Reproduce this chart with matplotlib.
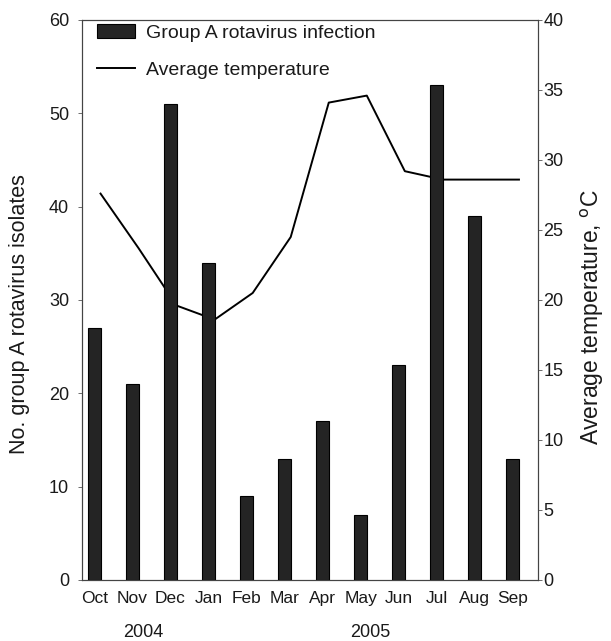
import matplotlib
matplotlib.use("Agg")
import matplotlib.pyplot as plt
import numpy as np

plt.rcParams['font.family'] = ['Liberation Sans', 'DejaVu Sans']

# monthly data, Oct 2004 - Sep 2005
months = ['Oct', 'Nov', 'Dec', 'Jan', 'Feb', 'Mar',
          'Apr', 'May', 'Jun', 'Jul', 'Aug', 'Sep']
isolates = [27, 21, 51, 34, 9, 13, 17, 7, 23, 53, 39, 13]
temperature = [27.6, 23.7, 19.6, 18.6, 20.5, 24.5,
               34.1, 34.6, 29.2, 28.6, 28.6, 28.6]
years = ['2004', '2005']
year_pos = [1.12, 7.09]

txt = '#1a1a1a'
x = np.arange(len(months))

fig = plt.figure(figsize=(6.11, 6.41), dpi=100)
ax = fig.add_axes([0.1334, 0.0952, 0.7471, 0.8736])
ax2 = ax.twinx()

# bars sit a bit left of the category centre, like the original
bars = ax.bar(x - 0.16, isolates, width=0.34, color='#242424',
              edgecolor='black', linewidth=0.8,
              label='Group A rotavirus infection')
line, = ax2.plot(x, temperature, color='black', linewidth=1.4,
                 label='Average temperature')

# bars drawn on top of the temperature line
ax.set_zorder(ax2.get_zorder() + 1)
ax.patch.set_visible(False)

ax.set_xlim(-0.5, 11.5)
ax.set_ylim(0, 60)
ax2.set_ylim(0, 40)
ax.set_yticks(range(0, 61, 10))
ax2.set_yticks(range(0, 41, 5))
ax.set_xticks(x - 0.16)
ax.set_xticklabels(months, fontsize=12.5, color=txt)

ax.tick_params(axis='x', length=0, pad=8)
ax.tick_params(axis='y', labelsize=13, labelcolor=txt, length=3,
               width=0.6, color='#555555', pad=6)
ax2.tick_params(axis='y', labelsize=13, labelcolor=txt, length=3,
                width=0.6, color='#555555', pad=1)

for a in (ax, ax2):
    for s in a.spines.values():
        s.set_linewidth(0.8)
        s.set_color('#444444')

ax.set_ylabel('No. group A rotavirus isolates', fontsize=15.5,
              color=txt)
ax2.set_ylabel('Average temperature, $^{\\rm o}$C', fontsize=16.5,
               color=txt)
ax.yaxis.set_label_coords(-0.112, 0.475)
ax2.yaxis.set_label_coords(1.09, 0.47)

for yr, xp in zip(years, year_pos):
    ax.text(xp, -0.079, yr, transform=ax.get_xaxis_transform(),
            ha='center', va='top', fontsize=13, color=txt)

leg = ax.legend([bars, line], [bars.get_label(), line.get_label()],
                loc='upper left', bbox_to_anchor=(0.033, 0.993),
                frameon=False, fontsize=14, borderaxespad=0,
                borderpad=0, labelspacing=1.0, handlelength=2.0,
                handletextpad=0.55)
for t in leg.get_texts():
    t.set_color(txt)

fig.savefig('out.png', dpi=100)
